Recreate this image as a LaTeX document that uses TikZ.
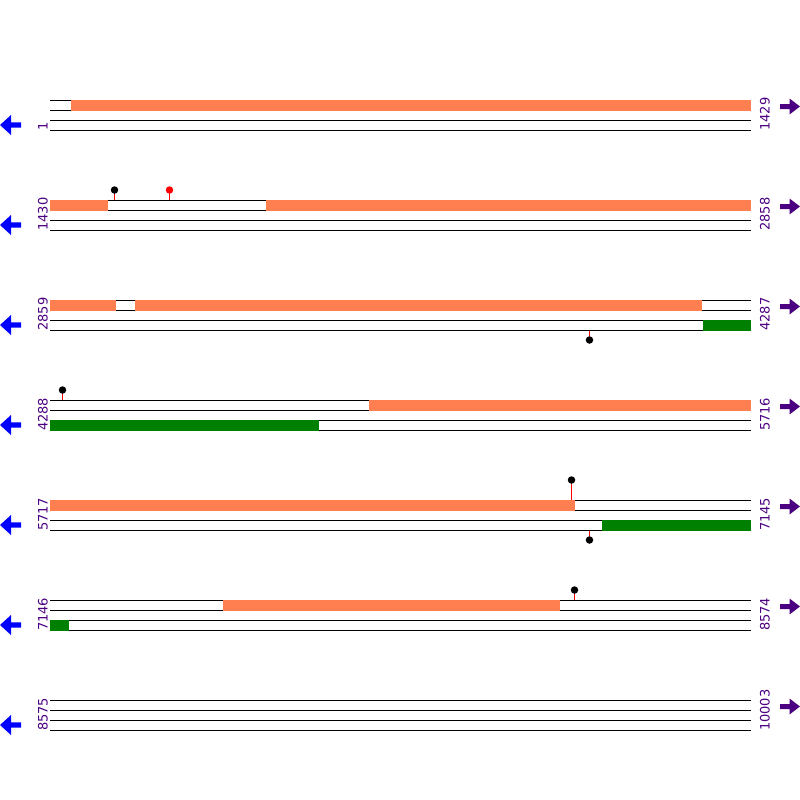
\documentclass[tikz,border=0pt]{standalone}
\usepackage{fontspec}
\setmainfont{DejaVu Sans}
\definecolor{coral}{RGB}{255,127,80}
\definecolor{gr}{RGB}{0,128,0}
\definecolor{ind}{RGB}{75,0,130}
\tikzset{
  strand/.style={line width=1pt,black},
  obox/.style={fill=coral,draw=none},
  gbox/.style={fill=gr,draw=none},
  lab/.style={rotate=90,anchor=base west,text=ind,font=\fontsize{13}{13}\selectfont,inner sep=0pt},
  stick/.style={red,line width=1pt},
  pop/.style={circle,inner sep=0pt,minimum size=7.5pt},
}
\begin{document}
\begin{tikzpicture}[x=1pt,y=-1pt]
\useasboundingbox (0,0) rectangle (800,800);
\fill[white] (0,0) rectangle (800,800);
\foreach \k/\a/\b in {0/1/1429,1/1430/2858,2/2859/4287,3/4288/5716,4/5717/7145,5/7146/8574,6/8575/10003}{
  \pgfmathsetmacro{\yy}{100+100*\k}
  \foreach \d in {0,10,20,30}{
    \draw[strand] (50,\yy+\d+0.5) -- (751,\yy+\d+0.5);
  }
  \node[lab] (L\k) at (47.5,\yy+31) {\a};
  \node[lab] (R\k) at (769.5,\yy+31) {\b};
  \fill[blue] (0,\yy+25) -- (11,\yy+15) -- (11,\yy+22.3) -- (21,\yy+22.3) -- (21,\yy+27.7) -- (11,\yy+27.7) -- (11,\yy+35) -- cycle;
  \fill[ind] (800,\yy+6.5) -- (789.5,\yy-1.5) -- (789.5,\yy+4) -- (780,\yy+4) -- (780,\yy+9) -- (789.5,\yy+9) -- (789.5,\yy+14.5) -- cycle;
}
% row 1
\fill[obox] (71,100) rectangle (751,111);
% row 2
\fill[obox] (50,200) rectangle (108,211);
\fill[obox] (266,200) rectangle (751,211);
\draw[stick] (114.5,190) -- (114.5,200);
\node[pop,fill=black] (p1) at (114.5,190) {};
\draw[stick] (169.5,190) -- (169.5,200);
\node[pop,fill=red] (p2) at (169.5,190) {};
% row 3
\fill[obox] (50,300) rectangle (116,311);
\fill[obox] (135,300) rectangle (702,311);
\fill[gbox] (703,320) rectangle (751,331);
\draw[stick] (589.5,331) -- (589.5,340);
\node[pop,fill=black] (p3) at (589.5,340) {};
% row 4
\fill[obox] (369,400) rectangle (751,411);
\fill[gbox] (50,420) rectangle (319,431);
\draw[stick] (62.5,390) -- (62.5,400);
\node[pop,fill=black] (p4) at (62.5,390) {};
% row 5
\fill[obox] (50,500) rectangle (575,511);
\fill[gbox] (602,520) rectangle (751,531);
\draw[stick] (571.5,480) -- (571.5,500);
\node[pop,fill=black] (p5) at (571.5,480) {};
\draw[stick] (589.5,531) -- (589.5,540);
\node[pop,fill=black] (p6) at (589.5,540) {};
% row 6
\fill[obox] (223,600) rectangle (560,611);
\fill[gbox] (50,620) rectangle (69,631);
\draw[stick] (574.5,590) -- (574.5,600);
\node[pop,fill=black] (p7) at (574.5,590) {};
\end{tikzpicture}
\end{document}
